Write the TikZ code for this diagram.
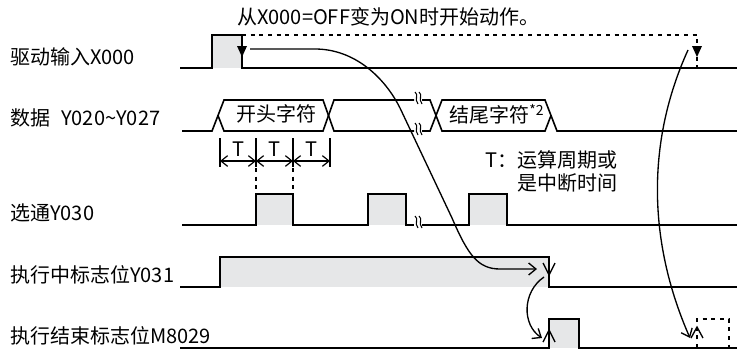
\documentclass[tikz,border=0pt]{standalone}
\usepackage{fontspec}
\setmainfont{Noto Sans CJK SC}
\usetikzlibrary{arrows.meta}
\definecolor{pulsegray}{HTML}{E6E7E8}
\begin{document}
\begin{tikzpicture}[x=0.75pt,y=-0.75pt,
  sig/.style={line width=1.5pt, line join=miter},
  bus/.style={line width=1.2pt, line join=miter},
  lbl/.style={inner sep=0pt, font=\fontsize{15}{18}\selectfont},
  curve/.style={line width=1pt},
  chev/.style={line width=1pt},
  dashl/.style={line width=1.1pt, dash pattern=on 3pt off 3.5pt},
  dotl/.style={line width=1.1pt, dash pattern=on 3pt off 3.5pt},
  tick/.style={line width=0.9pt},
  tarrow/.style={line width=0.9pt, {Straight Barb[length=5pt,width=8pt]}-{Straight Barb[length=5pt,width=8pt]}},
  bigtip/.style={-{Straight Barb[length=5.5pt,width=9pt]}},
  brkmark/.pic={
    \draw[line width=0.8pt] (-3,-6) .. controls (1,-3) and (-4,1) .. (0,6);
    \draw[line width=0.8pt] (1,-6) .. controls (5,-3) and (0,1) .. (4,6);
  }
]
\useasboundingbox (0,0) rectangle (737,351);

% labels
\node[lbl, anchor=west] (title) at (237,17) {从X000=OFF变为ON时开始动作。};
\node[lbl, anchor=west] (lx) at (10,57) {驱动输入X000};
\node[lbl, anchor=west] (ld) at (10,118) {数据\hspace{0.55em}Y020\textasciitilde Y027};
\node[lbl, anchor=west] (ls) at (10,213) {选通Y030};
\node[lbl, anchor=west] (lb) at (10,275) {执行中标志位Y031};
\node[lbl, anchor=west] (le) at (10,336) {执行结束标志位M8029};

% X000
\fill[pulsegray] (212,35) rectangle (242,68);
\draw[sig] (180,68) -- (212,68) -- (212,35) -- (242,35) -- (242,68) -- (737,68);
\draw[dashl] (242,35) -- (697,35) -- (697,67);
\fill (237,46) -- (247,46) -- (242,57) -- cycle;
\fill (692,46) -- (702,46) -- (697,57) -- cycle;

% data bus
\draw[bus] (182,131) -- (212,131) -- (224,100) -- (323,100) -- (334,131) -- (414,131);
\draw[bus] (218,115.5) -- (224,131) -- (323,131) -- (334,100) -- (414,100);
\draw[bus] (422,100) -- (430,100) -- (442,131) -- (545,131) -- (551,115.5);
\draw[bus] (422,131) -- (430,131) -- (442,100) -- (545,100) -- (557,131) -- (737,131);
\pic at (418,98) {brkmark};
\pic at (418,129) {brkmark};
\node[lbl] (d1) at (276,114) {开头字符};
\node[lbl, anchor=west] (d2) at (449,114) {结尾字符\textsuperscript{*2}};

% T intervals
\foreach \x in {220,256,293,330} \draw[tick] (\x,138) -- (\x,167);
\draw[tarrow] (220,161) -- (256,161);
\draw[tarrow] (256,161) -- (293,161);
\draw[tarrow] (293,161) -- (330,161);
\node[lbl] (t1) at (238,149) {T};
\node[lbl] (t2) at (274.5,149) {T};
\node[lbl] (t3) at (311.5,149) {T};
\draw[dotl] (256,168) -- (256,194);
\draw[dotl] (293,168) -- (293,194);
\node[lbl, anchor=east] (n1) at (618,160) {T：运算周期或};
\node[lbl, anchor=east] (n2) at (618,183) {是中断时间};

% Y030
\fill[pulsegray] (256,194) rectangle (293,225);
\fill[pulsegray] (368,194) rectangle (406,225);
\fill[pulsegray] (469,194) rectangle (507,225);
\draw[sig] (182,225) -- (256,225) -- (256,194) -- (293,194) -- (293,225) -- (368,225) -- (368,194) -- (406,194) -- (406,225) -- (414,225);
\draw[sig] (422,225) -- (469,225) -- (469,194) -- (507,194) -- (507,225) -- (737,225);
\pic at (418,222) {brkmark};

% Y031
\fill[pulsegray] (220,257) rectangle (549,287);
\draw[sig] (180,287) -- (220,287) -- (220,257) -- (549,257) -- (549,287) -- (737,287);
\draw[chev] (543,263) -- (549,275) -- (555,263);

% M8029
\fill[pulsegray] (549,319) rectangle (579,348);
\draw[sig] (180,348) -- (549,348) -- (549,319) -- (579,319) -- (579,348) -- (737,348);
\draw[chev] (543,342) -- (549,330) -- (555,342);
\draw[dotl] (697,348) -- (697,319) -- (729,319) -- (729,348);
\draw[chev] (691,338) -- (697,327) -- (703,338);

% curves
\coordinate (c1s) at (250,49);
\coordinate (c1e) at (537,269);
\coordinate (c2s) at (544,277);
\coordinate (c2e) at (542,338);
\coordinate (c3s) at (688,50);
\coordinate (c3e) at (690,338);
\draw[curve, bigtip] (c1s) -- (315,49) .. controls (355,49) and (385,78) .. (400,108) -- (452,218) .. controls (468,255) and (478,269) .. (500,269) -- (c1e);
\draw[curve, bigtip] (c2s) .. controls (522,292) and (522,325) .. (c2e);
\draw[curve, bigtip] (c3s) .. controls (647,140) and (647,240) .. (c3e);
\end{tikzpicture}
\end{document}
